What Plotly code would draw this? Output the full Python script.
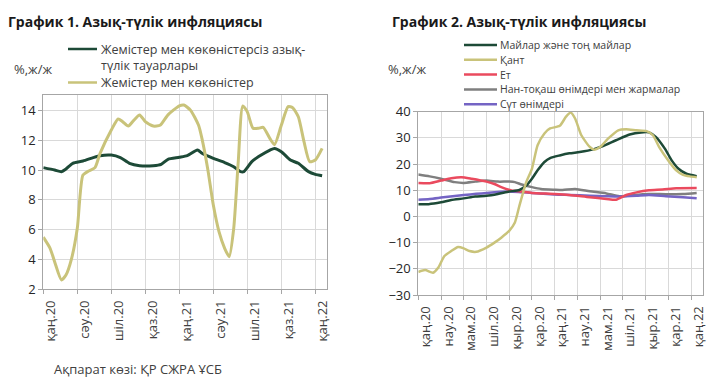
import plotly.graph_objects as go

# ---------------- data (x = months since Jan 2020) ----------------
c1_names = ["Жемістер мен көкөністерсіз азық-түлік тауарлары", "Жемістер мен көкөністер"]

c1_nonfv_month = [0, 1, 1.6, 2, 2.6, 3.5, 4.4, 5, 6, 6.8, 7.6, 8.5, 9.7, 10.4, 11, 12, 12.7, 13.6, 14, 15,
                  16, 16.8, 17.4, 17.7, 18.4, 19, 20, 20.4, 21, 21.8, 22.5, 23.4, 24, 24.6]
c1_nonfv_val = [10.16, 10.0, 9.89, 10.07, 10.45, 10.6, 10.83, 10.96, 11.0, 10.83, 10.45, 10.29, 10.29, 10.38,
                10.72, 10.85, 10.96, 11.34, 11.12, 10.78, 10.5, 10.22, 9.89, 9.89, 10.56, 10.9, 11.34, 11.45,
                11.23, 10.67, 10.45, 9.89, 9.71, 9.62]

c1_fv_month = [0, 0.6, 1, 1.6, 2, 2.5, 3, 3.5, 4, 4.56, 5, 6, 6.6, 7, 7.5, 8, 8.5, 9, 9.7, 10.3, 11, 12, 12.4,
               13, 13.7, 14, 14.5, 15, 15.5, 16, 16.4, 16.8, 17.2, 17.6, 18, 18.5, 19, 19.4, 20, 20.4, 21, 21.6,
               22, 22.5, 23, 23.5, 24, 24.6]
c1_fv_val = [5.5, 4.75, 3.85, 2.63, 2.96, 4.08, 6.09, 9.66, 9.93, 10.16, 11.1, 12.68, 13.42, 13.24, 12.95, 13.35,
             13.69, 13.24, 12.95, 13.0, 13.7, 14.3, 14.36, 14.0, 13.0, 12.1, 10.1, 7.65, 5.87, 4.75, 4.19, 6.09,
             10.56, 14.3, 13.9, 12.8, 12.8, 12.86, 12.1, 11.7, 13.0, 14.25, 14.18, 13.57, 11.9, 10.56, 10.67,
             11.45]

c1_tick_months = [0, 3, 6, 9, 12, 15, 18, 21, 24]
c1_tick_labels = ["қаң.20", "сәу.20", "шіл.20", "қаз.20", "қаң.21", "сәу.21", "шіл.21", "қаз.21", "қаң.22"]

c2_names = ["Майлар және тоң майлар", "Қант", "Ет", "Нан-тоқаш өнімдері мен жармалар", "Сүт өнімдері"]

fats_month = [0, 0.9, 2, 2.9, 4, 5, 6, 7, 8, 8.9, 9.5, 10, 10.5, 11.1, 11.6, 12.45, 13.3, 14.2, 15.4, 16.25,
              17.4, 18.6, 19.6, 20.3, 20.9, 21.7, 22.3, 22.9, 23.6, 24.5]
fats_val = [4.7, 4.7, 5.4, 6.3, 6.9, 7.6, 7.9, 8.6, 9.5, 10.1, 11.8, 14.4, 17.6, 20.8, 22.3, 23.3, 24.1, 24.6,
            25.6, 26.9, 29.1, 31.3, 32.1, 32.1, 30.4, 25.9, 21.4, 18.2, 16.3, 15.4]

sugar_month = [0, 0.6, 1.3, 1.75, 2.3, 2.9, 3.5, 4, 4.5, 5.1, 6, 6.7, 7.3, 8, 8.5, 8.9, 9.5, 10, 10.5, 11.1,
               11.6, 12.45, 13.0, 13.4, 13.8, 14.35, 15.1, 15.5, 16, 16.7, 17.6, 18.3, 19.2, 20.1, 20.65, 21.2,
               22, 22.7, 23.3, 23.9, 24.5]
sugar_val = [-21.2, -20.5, -21.5, -19.6, -15.1, -13.2, -11.7, -12.2, -13.2, -13.5, -11.9, -10.0, -8.1, -5.5,
             -2.3, 4.1, 13.1, 18.2, 27.2, 31.7, 33.6, 34.6, 38.1, 39.7, 37.4, 31.0, 26.5, 25.5, 26.5, 29.7,
             32.9, 33.3, 32.9, 32.6, 31.0, 26.5, 21.4, 17.6, 15.9, 15.3, 15.0]

meat_month = [0, 1, 2, 2.9, 3.8, 4.7, 6, 6.7, 7.3, 8.2, 9.1, 10, 12, 13.3, 15.1, 16.55, 17.4, 18.3, 19.2, 20.3,
              21.5, 22.7, 24.5]
meat_val = [12.8, 12.7, 13.7, 14.6, 15.0, 14.4, 13.3, 12.4, 11.2, 9.9, 9.5, 9.0, 8.6, 8.2, 7.3, 6.7, 6.4, 8.2,
            9.2, 10.0, 10.3, 10.8, 10.9]

bread_month = [0, 1, 2, 3.2, 4, 5, 6, 7, 8, 8.5, 9.1, 10, 10.8, 12, 12.7, 13.8, 15.1, 16.55, 17.7, 18.9, 20.3,
               21.8, 23.3, 24.5]
bread_val = [16.0, 15.3, 14.4, 13.1, 12.8, 13.3, 13.7, 13.3, 13.3, 13.1, 12.2, 11.2, 10.5, 10.2, 10.1, 10.5,
             9.6, 8.8, 7.7, 8.2, 8.6, 8.5, 8.6, 9.0]

dairy_month = [0, 1, 2, 4, 6, 8, 9.1, 10, 12, 13.3, 15.1, 16.55, 17.7, 19.2, 20.3, 21.8, 23.3, 24.5]
dairy_val = [6.4, 6.7, 7.2, 8.2, 9.0, 9.5, 9.2, 9.0, 8.4, 8.2, 7.9, 7.7, 7.6, 7.9, 8.2, 7.7, 7.3, 6.9]

c2_tick_months = [0, 2, 4, 6, 8, 10, 12, 14, 16, 18, 20, 22, 24]
c2_tick_labels = ["қаң.20", "нау.20", "мам.20", "шіл.20", "қыр.20", "қар.20", "қаң.21", "нау.21", "мам.21",
                  "шіл.21", "қыр.21", "қар.21", "қаң.22"]

# ---------------- styling ----------------
FONT = "Open Sans"
GREEN = "#1d4a37"
KHAKI = "#c9c37a"
RED = "#ea4a5e"
GREY = "#7f7f7f"
PURPLE = "#7464c4"
GRID = "#d9d9d9"
AXIS = "#a6a6a6"
W, H = 720, 381

fig = go.Figure()

def add(x, y, name, color, xa, ya, width):
    fig.add_trace(go.Scatter(x=x, y=y, name=name, mode="lines", xaxis=xa, yaxis=ya,
                             line=dict(color=color, width=width, shape="spline", smoothing=0.6),
                             showlegend=False, hoverinfo="skip"))

add(c1_nonfv_month, c1_nonfv_val, c1_names[0], GREEN, "x", "y", 3)
add(c1_fv_month, c1_fv_val, c1_names[1], KHAKI, "x", "y", 3)

c2_series = [(fats_month, fats_val, GREEN), (sugar_month, sugar_val, KHAKI), (meat_month, meat_val, RED),
             (bread_month, bread_val, GREY), (dairy_month, dairy_val, PURPLE)]
# draw order: grey, purple, red, fats, sugar on top
for idx in [3, 4, 2, 0, 1]:
    mx, vy, col = c2_series[idx]
    add(mx, vy, c2_names[idx], col, "x2", "y2", 2.5)

def px(x):
    return x / W

def py(y):
    return 1 - y / H

LABEL_SHIFT = 0.65

def xaxis_cfg(domain, months, labels, step):
    return dict(domain=domain, range=[0, 25.03], tickmode="array",
                tickvals=[m + LABEL_SHIFT for m in months], ticktext=labels, tickangle=-90,
                ticks="", showgrid=False, zeroline=False, automargin=False, ticklabelstandoff=5,
                tickfont=dict(family=FONT, size=13, color="#404040"),
                showline=True, linecolor=AXIS, linewidth=1, mirror=True,
                minor=dict(tickmode="linear", tick0=0, dtick=step, showgrid=True, gridcolor=GRID,
                           gridwidth=1, ticks="outside", ticklen=4, tickcolor=AXIS),
                fixedrange=True)

def yaxis_cfg(domain, rng, dtick, anchor):
    return dict(domain=domain, range=rng, tick0=rng[0], dtick=dtick, showgrid=True, gridcolor=GRID,
                zeroline=False, ticks="outside", ticklen=4, tickcolor=AXIS, automargin=False,
                tickfont=dict(family=FONT, size=13, color="#262626"),
                showline=True, linecolor=AXIS, linewidth=1, mirror=True, anchor=anchor, fixedrange=True)

fig.update_layout(
    width=W, height=H, margin=dict(l=0, r=0, t=0, b=0, pad=0, autoexpand=False),
    paper_bgcolor="white", plot_bgcolor="white",
    xaxis=xaxis_cfg([px(43.3), px(327)], c1_tick_months, c1_tick_labels, 3) | dict(anchor="y"),
    yaxis=yaxis_cfg([py(289.3), py(95)], [2, 15.03], 2, "x"),
    xaxis2=xaxis_cfg([px(418.3), px(702.7)], c2_tick_months, c2_tick_labels, 2) | dict(anchor="y2"),
    yaxis2=yaxis_cfg([py(295), py(111.7)], [-30, 40], 10, "x2"),
)

ann = []
shapes = []

def text(x, y, s, size, color="#404040", bold=False):
    ann.append(dict(x=px(x), y=py(y), xref="paper", yref="paper", text=f"<b>{s}</b>" if bold else s,
                    showarrow=False, xanchor="left", yanchor="middle", borderpad=0,
                    font=dict(family=FONT, size=size, color=color)))

def sample(x0, x1, y, color):
    shapes.append(dict(type="line", xref="paper", yref="paper", x0=px(x0), x1=px(x1), y0=py(y), y1=py(y),
                       line=dict(color=color, width=2.5)))

# titles
text(7, 21, "График 1. Азық-түлік инфляциясы", 14, "#1a1a1a", True)
text(391, 21, "График 2. Азық-түлік инфляциясы", 14, "#1a1a1a", True)
# units
text(13, 69, "%,ж/ж", 13)
text(387, 69, "%,ж/ж", 13)

# legend 1
sample(68, 97, 49, GREEN)
text(100, 49, "Жемістер мен көкөністерсіз азық-", 12.5)
text(100, 65.5, "түлік тауарлары", 12.5)
sample(68, 97, 82.5, KHAKI)
text(100, 82.5, c1_names[1], 12.5)

# legend 2
leg2_y = [45, 59.8, 74.6, 89.4, 104.2]
for (mx, vy, col), nm, yy in zip(c2_series, c2_names, leg2_y):
    sample(464, 497, yy, col)
    text(499, yy, nm, 10.5)

# source
text(53, 369, "Ақпарат көзі: ҚР СЖРА ҰСБ", 13)

fig.update_layout(annotations=ann, shapes=shapes)

# pin the figure to the top-left corner of the page (no default body margin)
pin = ("var d=document.getElementById('{plot_id}');d.style.position='fixed';d.style.top='0';"
       "d.style.left='0';document.body.style.margin='0';document.body.style.overflow='hidden';")
fig.write_html("out.html", post_script=pin, config={"displayModeBar": False})
